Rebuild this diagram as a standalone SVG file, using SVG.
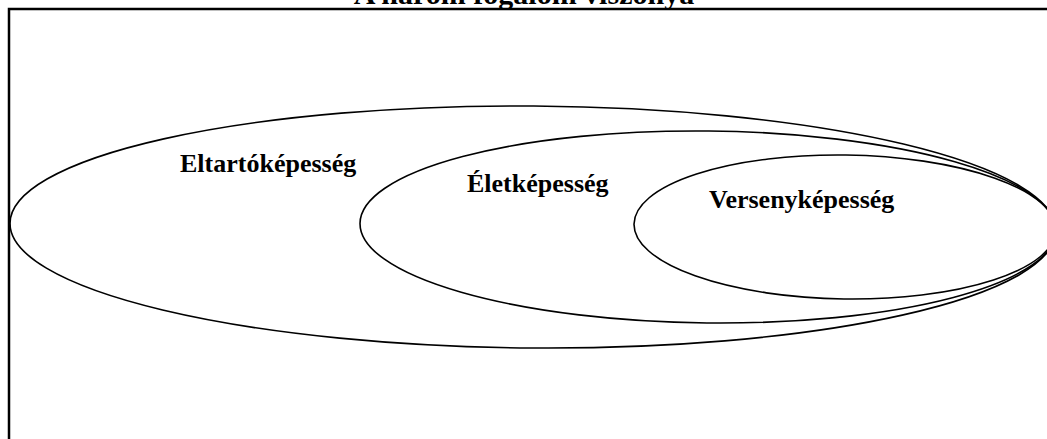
<svg xmlns="http://www.w3.org/2000/svg" width="1047" height="439" viewBox="0 0 1047 439">
<style>
.frame{fill:none;stroke:#000;stroke-width:2.5}
.ell{fill:none;stroke:#000;stroke-width:1.6}
.lbl{font-family:"Liberation Serif","Times New Roman",serif;font-weight:bold;font-size:26px;fill:#000}
</style>
<rect width="1047" height="439" fill="#fff"/>
<text class="lbl" x="524" y="4" text-anchor="middle" style="font-size:30px">A három fogalom viszonya</text>
<g id="frame">
<path class="frame" d="M9,439 V9 H1047"/>
</g>
<g id="connectors"></g>
<g id="node-eltarto">
<ellipse class="ell" cx="533" cy="227" rx="523" ry="121" transform="rotate(0.4 533 227)"/>
<text class="lbl" x="180" y="172">Eltartóképesség</text>
</g>
<g id="node-elet">
<ellipse class="ell" cx="708" cy="227" rx="348" ry="96" transform="rotate(0.6 708 227)"/>
<text class="lbl" x="467" y="192">Életképesség</text>
</g>
<g id="node-verseny">
<ellipse class="ell" cx="845" cy="227" rx="211" ry="72" transform="rotate(0.8 845 227)"/>
<text class="lbl" x="709" y="208">Versenyképesség</text>
</g>
</svg>
